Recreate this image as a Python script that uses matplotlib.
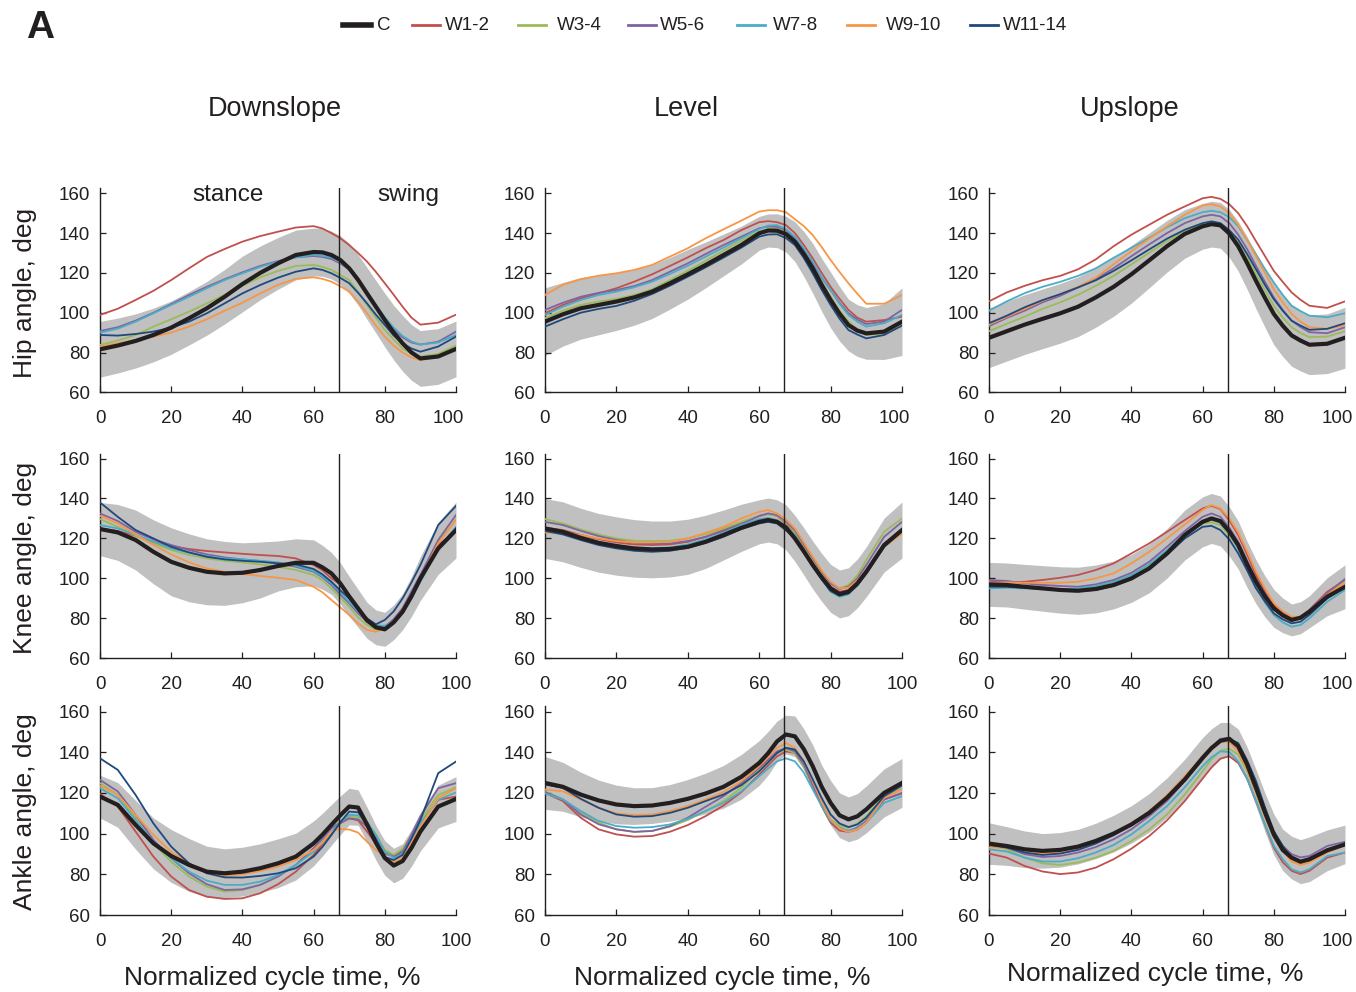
import matplotlib
matplotlib.use('Agg')
import matplotlib.pyplot as plt
from matplotlib.lines import Line2D
from matplotlib.transforms import ScaledTranslation

plt.rcParams['font.family'] = ['Liberation Sans', 'DejaVu Sans']

# ---------------- data ----------------
x_pct = [0, 5, 10, 15, 20, 25, 30, 35, 40, 45, 50, 55, 60, 62.5, 65, 67.5, 70, 72.5,
         75, 77.5, 80, 82.5, 85, 87.5, 90, 95, 100]

series_names = ['C', 'W1-2', 'W3-4', 'W5-6', 'W7-8', 'W9-10', 'W11-14']
series_colors = ['#231f20', '#c0504d', '#9bbb59', '#8064a2', '#4bacc6', '#f79646', '#1f497d']
conditions = ['Downslope', 'Level', 'Upslope']
joints = ['Hip angle, deg', 'Knee angle, deg', 'Ankle angle, deg']
x_ticks = [0, 20, 40, 60, 80, 100]
y_ticks = [60, 80, 100, 120, 140, 160]
stance_swing_split = 67

# Hip, downslope
hip_down_C = [81.6, 83.5, 85.8, 88.8, 92.5, 97.2, 102.2, 108, 114.4, 120, 124.8, 129, 130.5, 130.3, 129, 126.5, 122.3, 116.5, 109.7, 103, 96.3, 90, 84.6, 80, 77, 78, 81.8]
hip_down_sd = [14, 13.8, 13.6, 13.5, 13.4, 13.4, 13.5, 13.7, 14, 13.5, 13, 12.5, 12, 12, 12, 12.2, 12.5, 12.7, 13, 13.2, 13.5, 13.7, 14, 14, 14, 14, 14]
hip_down_W12 = [98.9, 102, 106.4, 111, 116.4, 122.3, 128, 132, 135.7, 138.5, 140.7, 142.8, 143.5, 142.3, 140, 137.4, 134, 130, 125.7, 120.5, 114.8, 109, 103, 97.5, 94, 95, 99]
hip_down_W34 = [83.8, 86, 88.8, 93, 96.7, 100.5, 104.7, 108.9, 113.4, 117.8, 121, 123.5, 124, 123, 121.5, 119, 116.4, 110.5, 103.9, 97.5, 91.3, 86.5, 82, 79.5, 78, 79.3, 83.5]
hip_down_W56 = [90.8, 92.7, 96, 100, 104.4, 108.9, 113, 116.8, 120.3, 123.5, 126, 127.8, 128.5, 128, 127, 124.7, 121.8, 116, 109.7, 103, 96.7, 91.5, 87.6, 85, 84, 85.4, 90.5]
hip_down_W78 = [90, 92, 95.5, 99.7, 103.9, 108, 112.3, 116.4, 119.8, 123, 125.7, 127.8, 129, 128.5, 127.8, 125.3, 122.3, 116.5, 110.6, 104, 97.7, 92.5, 88.3, 85.5, 84, 85, 88.8]
hip_down_W910 = [83, 84.6, 86.3, 88, 90, 93, 96.7, 101, 105, 109.7, 114, 117, 117.8, 117, 115.6, 113.3, 110.6, 105.5, 99.7, 93.5, 88, 83.5, 80, 77.5, 76.2, 78, 82]
hip_down_W1114 = [88.8, 88.5, 89.3, 90.5, 92.5, 95.5, 99.7, 104.7, 109.7, 113.9, 117.6, 120.6, 122.3, 121.5, 119.8, 117.5, 114.8, 110, 104.7, 99, 93.8, 88.5, 84.6, 82, 80.4, 83, 88]

# Hip, level
hip_level_C = [95.5, 99.2, 102.2, 103.9, 105.6, 107.7, 110.6, 114.8, 119.3, 124, 129, 134, 139.9, 141.3, 141.2, 139.5, 135.7, 129.5, 122.3, 114, 106.4, 99.5, 93.8, 91, 89.6, 90.5, 95.5]
hip_level_sd = [17, 16, 15.5, 15, 14.5, 14, 13.5, 13, 12.5, 11.5, 10.5, 9.5, 8.5, 8.3, 8.5, 9, 10, 11.3, 12.5, 13.3, 14, 13.7, 13, 13, 13, 14, 17]
hip_level_W12 = [99.7, 103.9, 107.2, 109.7, 112.3, 115.6, 119.3, 123.5, 127.8, 132.4, 136.5, 141.5, 145.5, 146, 145.5, 144, 140, 134, 127.3, 120, 113, 107, 101.4, 97.5, 95.5, 96.3, 98]
hip_level_W34 = [97.2, 101, 103.9, 105.6, 106.9, 108.9, 111.8, 116.4, 121.1, 126.1, 131.2, 136.2, 140.7, 142, 142.4, 140.5, 136.9, 130.5, 123.1, 115.5, 108, 101, 95.5, 91.5, 88.8, 89.6, 94.7]
hip_level_W56 = [101.4, 105, 108, 110, 111.4, 113.4, 116.4, 120.6, 124.8, 129.5, 134, 138.2, 142.4, 143.3, 143.2, 141.5, 137.4, 131.5, 124.8, 117.5, 111.4, 105, 99.7, 96.5, 94.3, 95.5, 101.4]
hip_level_W78 = [98.9, 103, 106.4, 108.9, 110.6, 112.8, 115.6, 119.5, 123.6, 128.2, 132.7, 137.4, 142, 143.8, 144, 142, 138.2, 132.5, 125.7, 118, 111.4, 104.5, 98.9, 95.5, 93, 94.7, 98.9]
hip_level_W910 = [108.9, 114, 116.8, 118.6, 119.8, 121.5, 124, 128.2, 132.4, 137.4, 141.9, 146.3, 150.8, 151.5, 151.5, 150.5, 147, 143.5, 139, 133, 126.5, 120.5, 114.8, 109.5, 104.5, 104.5, 108.9]
hip_level_W1114 = [93, 96.7, 100, 101.9, 103.4, 106, 109.4, 113.6, 118.1, 122.8, 127.7, 132.7, 138.2, 139.3, 139.4, 137.5, 134, 127.5, 119.8, 111.5, 103.9, 97, 91.3, 89, 87.1, 88.8, 93.5]

# Hip, upslope
hip_up_C = [87.4, 90.7, 94, 96.9, 99.7, 103, 107.7, 113, 119.3, 126.3, 133.4, 139.6, 143.4, 144.5, 143.9, 139.8, 133.4, 125, 116, 107.5, 99.4, 93.5, 88.6, 86, 83.9, 84.4, 87.4]
hip_up_sd = [15, 15, 15, 15, 15, 15, 15, 14.8, 14.5, 13.8, 13, 12.2, 11.5, 11.5, 11.5, 12, 12.5, 13.2, 14, 14.8, 15.5, 15.5, 15.5, 15.3, 15, 15, 15.3]
hip_up_W12 = [105.7, 110.2, 113.5, 116.3, 118.5, 121.8, 126.8, 133.4, 139.2, 144.2, 149.2, 153.4, 157.5, 158.2, 157.2, 154.5, 150, 143.5, 135.9, 128.5, 121, 115.5, 110.2, 106.5, 103.5, 102.4, 105.7]
hip_up_W34 = [90.7, 94.4, 98, 101.9, 105.2, 109, 113.5, 118.5, 124.3, 130.1, 135.9, 140.9, 144.2, 144.6, 144.2, 140.5, 135.1, 127.5, 119.3, 111.5, 103.5, 97.5, 92.7, 89.8, 87.7, 88, 90.7]
hip_up_W56 = [93.2, 97.4, 101, 105.2, 108.5, 112.7, 116.8, 122.3, 128.4, 134.3, 140, 145, 148.4, 149.2, 148.4, 145, 139.2, 132, 123.5, 115.5, 107.7, 101.5, 96, 92.8, 90.2, 89.7, 92.7]
hip_up_W78 = [101, 105.7, 109.8, 113, 115.5, 118.5, 122.3, 127.6, 132.6, 137.6, 142.9, 147.5, 150.5, 151.2, 150.5, 148, 143.4, 136.5, 129.3, 122, 115.2, 109, 103.5, 100.8, 98.5, 97.7, 99.7]
hip_up_W910 = [94, 98, 101.9, 106, 109.3, 113, 117.6, 124.3, 130.9, 137.2, 143.4, 149.2, 153.9, 154.5, 153.4, 150, 144.2, 136.5, 128.4, 120, 111.8, 105.2, 99.4, 95.5, 92.7, 91.9, 93.6]
hip_up_W1114 = [94.7, 98.5, 102.7, 106.3, 109.3, 112.7, 116.3, 121, 126.3, 131.8, 137.2, 141.7, 145, 145.9, 145, 141.5, 136.7, 129.5, 121.8, 114, 106.8, 101, 96, 93.5, 91.4, 91.9, 94.7]

# Knee, downslope
knee_down_C = [124.7, 123, 119.2, 113.3, 108.3, 105.3, 103.3, 102.5, 102.8, 104.2, 106.2, 107.8, 107.8, 105.5, 102.5, 97.5, 91, 85, 79, 75.5, 74.5, 78, 83.3, 91, 100, 115, 124.2]
knee_down_sd = [13.3, 14, 15, 16, 17, 17, 16.5, 16, 15, 14, 12.5, 12, 11.5, 11, 10.5, 10.3, 10, 9.5, 9, 8.7, 8.5, 8.7, 9, 10, 11, 13, 14]
knee_down_W12 = [125, 123.7, 121.3, 118.3, 116.2, 114.7, 113.7, 113, 112.3, 111.7, 111.2, 110, 106.7, 104, 100, 97, 90, 84.5, 79.2, 76, 75.3, 79.5, 85, 92.5, 100.8, 116.7, 123.5]
knee_down_W34 = [129.7, 125.8, 121.3, 117.5, 114.2, 111.7, 110, 108.8, 108, 107, 105.8, 104.2, 101.7, 99, 95, 90.5, 85.8, 80.5, 76.7, 74.3, 75, 78.5, 83.3, 92, 100.8, 118.3, 129.2]
knee_down_W56 = [132.5, 128.7, 123.3, 119.5, 116.7, 114.2, 112, 110.5, 109.5, 108.7, 107.5, 105.8, 103.3, 100.5, 96.7, 92, 87.5, 82.5, 78.3, 76, 75.8, 79.5, 85, 93.5, 101.7, 119.2, 131.7]
knee_down_W78 = [126.7, 125, 122, 118.3, 115, 112.8, 111.2, 110, 109.5, 108.8, 108, 106.3, 103.7, 101, 97.5, 93, 88.3, 83.5, 79.2, 76.5, 76.3, 78.5, 83.3, 90.5, 98.3, 115, 125.8]
knee_down_W910 = [131.3, 127.5, 122, 116.7, 112, 108, 105, 103.3, 102.2, 101.2, 100.3, 99.2, 95.8, 93, 89.2, 85.5, 81.7, 77.5, 74.2, 73.3, 75, 78.5, 83.3, 91.5, 100, 117.5, 129.2]
knee_down_W1114 = [138, 130.8, 124.2, 120, 115.8, 113, 110.8, 109.5, 108.8, 108.3, 107.5, 107, 104.7, 102, 98.3, 94, 90, 84.5, 80, 77, 79.2, 83.5, 90, 98, 106.7, 126.7, 136.3]

# Knee, level
knee_level_C = [125, 123.3, 120.3, 117.8, 116.2, 115, 114.5, 114.7, 115.8, 118.3, 121.7, 125.3, 128.3, 129.2, 128.3, 125.5, 120, 113.5, 106.7, 100.5, 95, 92.2, 93.3, 97.5, 103.3, 116.7, 124.2]
knee_level_sd = [15, 15, 14.8, 14.7, 14.6, 14.4, 14.2, 14, 13.8, 13.3, 12.5, 11.8, 11, 11, 11, 11.3, 11.5, 11.8, 12, 12, 12, 12, 12, 12.2, 12.5, 13.5, 14]
knee_level_W12 = [125.3, 124.2, 121.7, 119.7, 118, 117, 116.7, 117, 118.3, 120.8, 124.2, 128, 131.3, 132.4, 131.2, 127.5, 123, 115.5, 108.3, 101.5, 95.8, 93.3, 94.2, 98.5, 104.2, 116.7, 123]
knee_level_W34 = [129.7, 127.5, 124.5, 122, 120, 118.8, 118.7, 118.8, 120, 122.2, 125, 128.3, 131.3, 132, 131.3, 128, 123.3, 116.5, 109.2, 103, 97.5, 95, 96.7, 101.5, 109.2, 123.3, 130]
knee_level_W56 = [128.3, 126.7, 123.8, 121.2, 119.2, 117.8, 117.3, 117.5, 118.7, 120.8, 123.7, 127.2, 131.2, 132.5, 131.7, 128.5, 124.2, 117, 110, 103.5, 97.5, 94.7, 95.8, 100, 106.7, 120.8, 128.3]
knee_level_W78 = [124.2, 123, 120.3, 118, 116.3, 115.3, 115, 115.5, 117, 119.5, 122.8, 126.7, 129.7, 130.3, 129.2, 125.8, 121.7, 114, 106.7, 99.5, 93.3, 90.8, 92, 96.5, 102.5, 115.8, 123]
knee_level_W910 = [123, 123, 121.7, 120, 118.7, 118, 118, 118.3, 120, 122.8, 125.8, 130, 133.3, 134.2, 132.5, 129.5, 125, 118, 110.8, 104, 98.3, 95, 95.3, 99, 104.2, 115.8, 122.5]
knee_level_W1114 = [123.7, 122, 119.2, 116.7, 115, 113.8, 113.3, 113.8, 115.3, 117.8, 120.8, 124.7, 127.5, 128.3, 127.5, 124, 120, 113, 105.8, 99.5, 93.7, 91.3, 92.5, 96.5, 102.5, 115.8, 123.7]

# Knee, upslope
knee_up_C = [97, 96.7, 95.8, 95, 94.2, 93.8, 94.7, 96.7, 100, 105, 112.5, 121.7, 128.3, 130, 128.7, 123.5, 116.7, 107, 98.3, 91, 85, 81.5, 79.2, 80.3, 83.3, 90.8, 95.8]
knee_up_sd = [11, 11, 11.2, 11.4, 11.6, 11.8, 12, 12, 12, 12.2, 12.4, 12.5, 12.5, 12.5, 12.5, 12.3, 12, 11.5, 11, 10.3, 9.5, 8.7, 8, 8, 8, 9.5, 11]
knee_up_W12 = [98.3, 98, 98.3, 99.2, 100.3, 101.7, 104.2, 107.5, 112.5, 117.5, 123.3, 129.2, 135, 136.3, 134.7, 129, 121.7, 112, 101.7, 93.5, 86.7, 83, 80.3, 80.8, 84.2, 93.3, 99.2]
knee_up_W34 = [98, 97, 95.8, 95, 94.5, 94.7, 95.8, 98.3, 101.7, 106.7, 113.7, 121.7, 127.5, 128, 126.7, 121.5, 115, 106, 97.5, 90.5, 85, 81.5, 79.7, 80.3, 83.3, 91.7, 98.3]
knee_up_W56 = [99.2, 98.7, 97.5, 96.7, 96.2, 95.8, 97, 99.2, 102.8, 108.3, 115.8, 123.7, 130.8, 132.5, 130.8, 125.5, 118.3, 109, 100, 92.5, 85.8, 82.3, 80, 80.8, 84.2, 92.5, 99.7]
knee_up_W78 = [95, 95.3, 95, 94.7, 94.5, 95, 96.2, 98.3, 101.7, 107, 114.2, 122.5, 128.7, 129.7, 127.8, 122.5, 115, 105, 95.8, 88, 81.7, 78, 75.8, 76.7, 80, 88.3, 94.2]
knee_up_W910 = [97.5, 98, 97.8, 97.8, 97.8, 98.3, 100, 102.5, 107.5, 113.3, 120, 127, 134.2, 136.7, 135, 130, 123, 113.5, 103.3, 95, 87.5, 83.5, 80.8, 80.8, 83.3, 91.7, 98]
knee_up_W1114 = [95.8, 95.8, 95.3, 94.7, 94, 93.7, 94.2, 96.2, 99.5, 104.7, 111.7, 120, 125.8, 126.3, 124.2, 119.5, 112.5, 104, 95, 88.5, 82.5, 79.5, 77.5, 78.3, 81.7, 90, 95.8]

# Ankle, downslope
ankle_down_C = [118.2, 114.1, 104.3, 95.2, 89, 84.6, 81.3, 80.5, 81.3, 83, 85.4, 88.7, 95.2, 99.5, 104.3, 109, 113.3, 112.8, 104.5, 95.5, 88, 84.3, 86.5, 93, 101, 113.3, 117]
ankle_down_sd = [10.5, 11, 12, 12.5, 13, 13, 12.5, 12, 12, 12, 12, 11.5, 11, 10.5, 10, 9.5, 9, 8.7, 8.5, 8.5, 8.5, 8.5, 8.5, 9, 9.5, 10.5, 11]
ankle_down_W12 = [119.5, 113.3, 101, 88.7, 78.9, 72.3, 69, 67.9, 68.2, 70.7, 75.1, 81.3, 89.5, 95, 100.2, 105, 107.5, 106.5, 101, 95, 90, 89, 92, 98, 105, 116.6, 118.2]
ankle_down_W34 = [124.8, 119, 107.5, 95.2, 86.2, 78.9, 73.9, 71.5, 72.3, 74.8, 78.9, 84.6, 92.8, 98, 102.6, 106, 108.4, 108, 105, 99.5, 92, 89.5, 92.5, 99, 106.7, 119, 122.8]
ankle_down_W56 = [126.4, 120.7, 109.2, 96.9, 87.9, 80.5, 75.1, 72.3, 72.6, 74.8, 78.9, 84.6, 92.8, 97.5, 102.6, 105.5, 107.5, 107, 103.4, 98, 91, 88.5, 91, 99.5, 108.4, 122.3, 124.8]
ankle_down_W78 = [122.3, 117.4, 106.7, 96.1, 87.9, 81.3, 76.9, 74.8, 74.8, 76.4, 79.7, 84.6, 91.1, 96, 100.9, 105.5, 109.2, 109, 105.9, 99.5, 91, 88, 90, 97.5, 105, 116.6, 120.2]
ankle_down_W910 = [123.4, 119, 109.2, 99.3, 91.1, 85.4, 81.6, 79.3, 80, 81.6, 83.8, 87, 92, 95.5, 101, 102.3, 102, 100.5, 96, 92, 88.7, 86, 88, 95.5, 103.4, 117.4, 122.3]
ankle_down_W1114 = [137, 131.3, 119, 105, 93.6, 85.4, 80.5, 78.5, 78.4, 79.2, 80.5, 83, 88.7, 93.5, 99.3, 105.5, 110.8, 110.5, 105, 97, 88.5, 87, 89.5, 97.5, 106.7, 129.7, 135.4]

# Ankle, level
ankle_level_C = [124.9, 123, 119.2, 116.3, 114.3, 113.5, 113.8, 115.1, 117.1, 119.7, 123, 127.9, 134.7, 139.5, 145.3, 148.7, 147.8, 141.5, 133.1, 123, 115.1, 109, 107, 108.5, 111.9, 120, 124.9]
ankle_level_sd = [13, 12, 11, 10, 9.5, 9, 8.8, 9, 9.5, 10, 10.5, 11, 11, 10.7, 10, 9.5, 10, 10, 10.5, 10.7, 11, 11, 11, 11.2, 11.5, 11.8, 12]
ankle_level_W12 = [120, 116, 107.8, 102.1, 99.6, 98.5, 98.8, 100.9, 104.2, 108.6, 113.8, 120.4, 129, 133.5, 138, 140.4, 139.6, 133, 123.3, 113.5, 105.4, 101.5, 100.8, 102, 105.4, 116.8, 119.7]
ankle_level_W34 = [120.8, 116.8, 110.2, 105.4, 102.1, 100.8, 101.3, 103.4, 106.7, 111.1, 116, 122.5, 131.5, 135.5, 139.6, 141.3, 139.6, 133, 124.1, 115, 107, 104, 102.9, 105, 108.6, 118.4, 122]
ankle_level_W56 = [120.4, 116.8, 109.4, 104.6, 102.1, 100.9, 101.3, 103.7, 107.8, 113.2, 118.4, 124.9, 132.3, 136.3, 140.4, 142.1, 140.4, 134, 124.1, 114.5, 106.2, 102.5, 101.3, 103, 106.2, 116.8, 120]
ankle_level_W78 = [119.7, 116.8, 111.1, 106.2, 103.7, 102.9, 103.2, 104.5, 107.3, 111.1, 115.1, 120.8, 128.2, 132, 135.5, 137, 135.5, 130, 121.7, 113.5, 106.2, 103, 101.3, 102.5, 105.4, 115.1, 118.4]
ankle_level_W910 = [121.7, 120.8, 116.8, 112.7, 109.9, 109.1, 109.4, 111.1, 113.5, 116.8, 120.4, 125.7, 133.1, 137.5, 142.1, 144.5, 142.1, 135.5, 125.7, 115.5, 107, 102.5, 100.8, 102, 105.4, 117.6, 121.7]
ankle_level_W1114 = [124.1, 122.5, 117.1, 112.7, 109.4, 108.3, 108.6, 110.2, 112.7, 116, 119.2, 123.8, 130.6, 135, 139.6, 142.2, 141.3, 135.5, 126.6, 117.5, 109.4, 105, 103.2, 104.5, 107.8, 118.4, 123.6]

# Ankle, upslope
ankle_up_C = [95.1, 93.9, 92.3, 91.5, 92, 93.6, 96.4, 100, 104.5, 110.2, 117.6, 126.6, 137.2, 142, 145.6, 146.6, 142.9, 134, 122.5, 110.5, 99.6, 92, 88.2, 86.2, 87.4, 91.8, 94.7]
ankle_up_sd = [10.2, 9.5, 9, 8.5, 8.5, 8.5, 8.7, 9, 9.2, 9.5, 9.8, 10, 10, 9.5, 9, 8, 8.5, 8.5, 9, 9.5, 10, 10.2, 10.5, 10.8, 11, 10, 9.5]
ankle_up_W12 = [90.2, 88.2, 84.1, 81.4, 80.1, 80.9, 83.3, 87.4, 92.6, 98.8, 106.5, 116, 127, 132.5, 136.8, 138, 134.7, 127, 116, 104.5, 93.1, 86, 81.7, 80.1, 81.7, 88.2, 90.7]
ankle_up_W34 = [94.4, 92.3, 88.2, 85.4, 84.6, 85.8, 88.2, 91.5, 96.4, 102.1, 109.4, 119.2, 130.6, 136.5, 140.7, 141.7, 138.8, 130.5, 120, 108.5, 98, 91.5, 86.9, 85.3, 86.6, 91.5, 95.1]
ankle_up_W56 = [95.6, 93.1, 89.9, 88.5, 89, 90.7, 93.4, 97.2, 102.1, 108.6, 116, 125.8, 136.3, 142.5, 146.6, 147, 142.9, 134, 122.5, 111, 100.5, 94, 89.9, 88.3, 89, 93.9, 96]
ankle_up_W78 = [92.3, 91.2, 88.2, 86.3, 86.3, 87.9, 90.7, 94.4, 99.6, 106.2, 113.5, 122.8, 133.1, 137.5, 140.4, 140.1, 135.5, 127, 116, 104.5, 93.9, 87.5, 82.5, 80.9, 82.5, 89, 90.7]
ankle_up_W910 = [93.1, 93.1, 91.5, 90.2, 90.7, 92.3, 95.6, 99.6, 104.9, 111.1, 118.9, 128.2, 138, 143, 145.3, 145, 140.4, 131.5, 120, 108.5, 98, 91.5, 86.3, 84.6, 85.8, 90.7, 94.4]
ankle_up_W1114 = [94.4, 93.1, 90.7, 89.5, 90.2, 92, 95.1, 99.2, 104.2, 110.2, 117.6, 126.6, 136.8, 142.4, 145.6, 146.6, 144.5, 136, 125.8, 113, 101.3, 94, 88.2, 86, 86.9, 91.5, 94.7]

panels = [
    [(hip_down_C, hip_down_sd, [hip_down_W12, hip_down_W34, hip_down_W56, hip_down_W78, hip_down_W910, hip_down_W1114]),
     (hip_level_C, hip_level_sd, [hip_level_W12, hip_level_W34, hip_level_W56, hip_level_W78, hip_level_W910, hip_level_W1114]),
     (hip_up_C, hip_up_sd, [hip_up_W12, hip_up_W34, hip_up_W56, hip_up_W78, hip_up_W910, hip_up_W1114])],
    [(knee_down_C, knee_down_sd, [knee_down_W12, knee_down_W34, knee_down_W56, knee_down_W78, knee_down_W910, knee_down_W1114]),
     (knee_level_C, knee_level_sd, [knee_level_W12, knee_level_W34, knee_level_W56, knee_level_W78, knee_level_W910, knee_level_W1114]),
     (knee_up_C, knee_up_sd, [knee_up_W12, knee_up_W34, knee_up_W56, knee_up_W78, knee_up_W910, knee_up_W1114])],
    [(ankle_down_C, ankle_down_sd, [ankle_down_W12, ankle_down_W34, ankle_down_W56, ankle_down_W78, ankle_down_W910, ankle_down_W1114]),
     (ankle_level_C, ankle_level_sd, [ankle_level_W12, ankle_level_W34, ankle_level_W56, ankle_level_W78, ankle_level_W910, ankle_level_W1114]),
     (ankle_up_C, ankle_up_sd, [ankle_up_W12, ankle_up_W34, ankle_up_W56, ankle_up_W78, ankle_up_W910, ankle_up_W1114])],
]

# ---------------- layout ----------------
W, H = 1356, 992
TXT = '#231f20'
fig = plt.figure(figsize=(W / 100, H / 100), dpi=100)

col_x0 = [100, 545, 989]
col_x1 = [456, 902, 1345]
row_y60 = [392.3, 658.3, 915.0]
row_y160 = [193.3, 458.5, 711.5]
YMIN, YMAX = 60, 162.5

for r in range(3):
    for c in range(3):
        ppu = (row_y60[r] - row_y160[r]) / 100.0
        top = row_y160[r] - (YMAX - 160) * ppu
        ax = fig.add_axes([col_x0[c] / W, 1 - row_y60[r] / H,
                           (col_x1[c] - col_x0[c]) / W, (row_y60[r] - top) / H])
        C, sd, ws = panels[r][c]
        lo = [m - s for m, s in zip(C, sd)]
        hi = [m + s for m, s in zip(C, sd)]
        ax.fill_between(x_pct, lo, hi, color='#c0c0c0', lw=0, zorder=1)
        for w_vals, col in zip(ws, series_colors[1:]):
            ax.plot(x_pct, w_vals, color=col, lw=1.3, zorder=3, solid_joinstyle='round')
        ax.plot(x_pct, C, color=series_colors[0], lw=3.0, zorder=4, solid_joinstyle='round')
        ax.axvline(stance_swing_split, color=TXT, lw=1.0, zorder=5)
        ax.set_xlim(0, 100)
        ax.set_ylim(YMIN, YMAX)
        ax.set_xticks(x_ticks)
        ax.set_yticks(y_ticks)
        ax.tick_params(direction='in', length=4, width=0.9, colors=TXT, labelsize=13.5)
        ax.tick_params(axis='x', pad=13)
        ax.tick_params(axis='y', pad=7)
        for s in ['top', 'right']:
            ax.spines[s].set_visible(False)
        for s in ['left', 'bottom']:
            ax.spines[s].set_color(TXT)
            ax.spines[s].set_linewidth(1.0)
        ax.set_facecolor('none')
        if c == 2 or (r == 0 and c < 2):
            lbl = ax.xaxis.get_major_ticks()[-1].label1
            lbl.set_transform(lbl.get_transform() + ScaledTranslation(-0.08, 0, fig.dpi_scale_trans))

# column titles
for title, px in zip(conditions, [275, 686, 1130]):
    fig.text(px / W, 1 - 109 / H, title, ha='center', va='center', fontsize=19.5, color=TXT)

# row labels
for lab, py in zip(joints, [293, 558, 812]):
    fig.text(25 / W, 1 - py / H, lab, ha='center', va='center', rotation=90, fontsize=19, color=TXT)

# x labels
for px, py in zip([272, 722, 1155], [978, 978, 974]):
    fig.text(px / W, 1 - py / H, 'Normalized cycle time, %', ha='center', va='center', fontsize=19, color=TXT)

# stance / swing
fig.text(228 / W, 1 - 195 / H, 'stance', ha='center', va='center', fontsize=17.5, color=TXT)
fig.text(408 / W, 1 - 195 / H, 'swing', ha='center', va='center', fontsize=17.5, color=TXT)

# panel letter
fig.text(40 / W, 1 - 28 / H, 'A', ha='center', va='center', fontsize=28, fontweight='bold', color=TXT)

# legend
leg_x = [343, 412, 518, 628, 737, 847, 970]
leg_label_x = [377, 445, 557, 660, 773, 886, 1003]
leg_y = 25
for i, (name, col) in enumerate(zip(series_names, series_colors)):
    x0 = leg_x[i]
    lw = 4.0 if i == 0 else 2.0
    fig.add_artist(Line2D([x0 / W, (x0 + 28) / W], [1 - leg_y / H, 1 - leg_y / H],
                          transform=fig.transFigure, color=col, lw=lw))
    fig.text(leg_label_x[i] / W, 1 - (leg_y + 1) / H, name, ha='left', va='center',
             fontsize=13.5, color=TXT)

fig.savefig('out.png', dpi=100, facecolor='white')
